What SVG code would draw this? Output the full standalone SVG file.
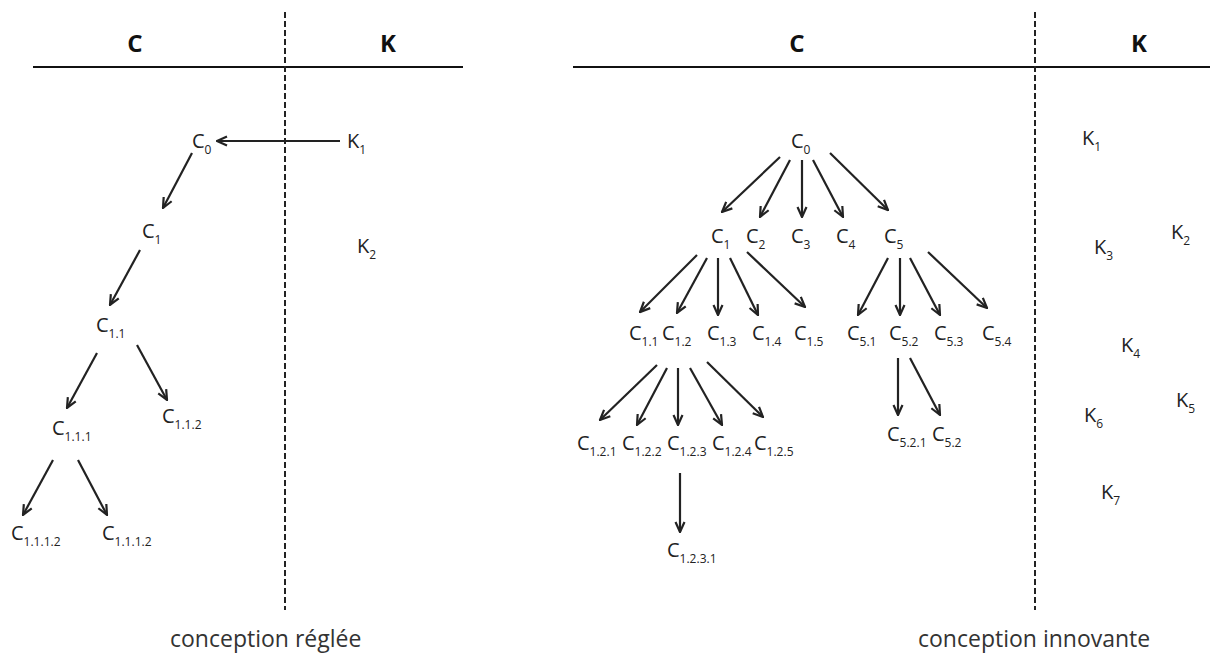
<svg xmlns="http://www.w3.org/2000/svg" width="1210" height="653" viewBox="0 0 1210 653">
<style>
text{font-family:"Open Sans","Liberation Sans",sans-serif;fill:#222}
.n{font-size:20px}
.s{font-size:12px}
.h{font-size:24px;font-weight:bold;text-anchor:middle;fill:#111}
.cap{font-size:23px;fill:#333}
.rule{stroke:#111;stroke-width:2;fill:none}
.dash{stroke:#222;stroke-width:2;stroke-dasharray:6 3;fill:none}
#connectors line{stroke:#222;stroke-width:2.2;marker-end:url(#arr)}
</style>
<defs>
<marker id="arr" viewBox="0 0 12 12" refX="11" refY="6" markerWidth="12" markerHeight="12" markerUnits="userSpaceOnUse" orient="auto">
<path d="M1,1.5 L11,6 L1,10.5" fill="none" stroke="#222" stroke-width="2.2"/>
</marker>
</defs>
<rect width="1210" height="653" fill="#fff"/>
<g id="frame">
<line class="rule" x1="33" y1="67" x2="463" y2="67"/>
<line class="rule" x1="573" y1="67" x2="1210" y2="67"/>
<line class="dash" x1="285" y1="12" x2="285" y2="610"/>
<line class="dash" x1="1035" y1="12" x2="1035" y2="610"/>
<text class="h" x="135" y="52">C</text>
<text class="h" x="388" y="52">K</text>
<text class="h" x="797" y="52">C</text>
<text class="h" x="1139" y="52">K</text>
<text class="cap" x="170" y="647">conception réglée</text>
<text class="cap" x="918" y="647">conception innovante</text>
</g>
<g id="connectors">
<line x1="340" y1="141" x2="217" y2="141"/>
<line x1="192" y1="153" x2="163" y2="208"/>
<line x1="140" y1="250" x2="110" y2="305"/>
<line x1="97" y1="353" x2="67" y2="408"/>
<line x1="137" y1="345" x2="167" y2="400"/>
<line x1="53" y1="460" x2="23" y2="515"/>
<line x1="78" y1="460" x2="107" y2="515"/>
<line x1="780" y1="157" x2="722" y2="212"/>
<line x1="790" y1="160" x2="760" y2="217"/>
<line x1="802" y1="160" x2="802" y2="217"/>
<line x1="813" y1="160" x2="843" y2="217"/>
<line x1="830" y1="153" x2="888" y2="210"/>
<line x1="697" y1="255" x2="640" y2="312"/>
<line x1="707" y1="258" x2="677" y2="313"/>
<line x1="718" y1="258" x2="718" y2="315"/>
<line x1="730" y1="258" x2="758" y2="315"/>
<line x1="747" y1="252" x2="805" y2="307"/>
<line x1="657" y1="365" x2="600" y2="420"/>
<line x1="667" y1="368" x2="637" y2="425"/>
<line x1="678" y1="368" x2="678" y2="425"/>
<line x1="690" y1="368" x2="722" y2="425"/>
<line x1="707" y1="362" x2="763" y2="417"/>
<line x1="680" y1="473" x2="680" y2="532"/>
<line x1="888" y1="258" x2="858" y2="315"/>
<line x1="900" y1="258" x2="900" y2="315"/>
<line x1="910" y1="258" x2="940" y2="315"/>
<line x1="928" y1="252" x2="987" y2="308"/>
<line x1="898" y1="358" x2="898" y2="415"/>
<line x1="910" y1="358" x2="940" y2="415"/>
</g>
<g id="L-C0"><text class="n" x="192" y="148">C<tspan class="s" dy="6">0</tspan></text></g>
<g id="L-K1"><text class="n" x="347" y="148">K<tspan class="s" dy="6">1</tspan></text></g>
<g id="L-C1"><text class="n" x="142" y="238">C<tspan class="s" dy="6">1</tspan></text></g>
<g id="L-C1.1"><text class="n" x="96" y="332">C<tspan class="s" dy="6">1.1</tspan></text></g>
<g id="L-C1.1.1"><text class="n" x="52" y="435">C<tspan class="s" dy="6">1.1.1</tspan></text></g>
<g id="L-C1.1.2"><text class="n" x="162" y="423">C<tspan class="s" dy="6">1.1.2</tspan></text></g>
<g id="L-C1.1.1.2a"><text class="n" x="11" y="540">C<tspan class="s" dy="6">1.1.1.2</tspan></text></g>
<g id="L-C1.1.1.2b"><text class="n" x="102" y="540">C<tspan class="s" dy="6">1.1.1.2</tspan></text></g>
<g id="L-K2"><text class="n" x="357" y="253">K<tspan class="s" dy="6">2</tspan></text></g>
<g id="R-C0"><text class="n" x="791" y="148">C<tspan class="s" dy="6">0</tspan></text></g>
<g id="R-C1"><text class="n" x="711" y="243">C<tspan class="s" dy="6">1</tspan></text></g>
<g id="R-C2"><text class="n" x="746" y="243">C<tspan class="s" dy="6">2</tspan></text></g>
<g id="R-C3"><text class="n" x="791" y="243">C<tspan class="s" dy="6">3</tspan></text></g>
<g id="R-C4"><text class="n" x="836" y="243">C<tspan class="s" dy="6">4</tspan></text></g>
<g id="R-C5"><text class="n" x="884" y="243">C<tspan class="s" dy="6">5</tspan></text></g>
<g id="R-C1.1"><text class="n" x="629" y="340">C<tspan class="s" dy="6">1.1</tspan></text></g>
<g id="R-C1.2"><text class="n" x="662" y="340">C<tspan class="s" dy="6">1.2</tspan></text></g>
<g id="R-C1.3"><text class="n" x="707" y="340">C<tspan class="s" dy="6">1.3</tspan></text></g>
<g id="R-C1.4"><text class="n" x="752" y="340">C<tspan class="s" dy="6">1.4</tspan></text></g>
<g id="R-C1.5"><text class="n" x="794" y="340">C<tspan class="s" dy="6">1.5</tspan></text></g>
<g id="R-C5.1"><text class="n" x="847" y="340">C<tspan class="s" dy="6">5.1</tspan></text></g>
<g id="R-C5.2"><text class="n" x="889" y="340">C<tspan class="s" dy="6">5.2</tspan></text></g>
<g id="R-C5.3"><text class="n" x="934" y="340">C<tspan class="s" dy="6">5.3</tspan></text></g>
<g id="R-C5.4"><text class="n" x="982" y="340">C<tspan class="s" dy="6">5.4</tspan></text></g>
<g id="R-C1.2.1"><text class="n" x="577" y="450">C<tspan class="s" dy="6">1.2.1</tspan></text></g>
<g id="R-C1.2.2"><text class="n" x="622" y="450">C<tspan class="s" dy="6">1.2.2</tspan></text></g>
<g id="R-C1.2.3"><text class="n" x="667" y="450">C<tspan class="s" dy="6">1.2.3</tspan></text></g>
<g id="R-C1.2.4"><text class="n" x="712" y="450">C<tspan class="s" dy="6">1.2.4</tspan></text></g>
<g id="R-C1.2.5"><text class="n" x="754" y="450">C<tspan class="s" dy="6">1.2.5</tspan></text></g>
<g id="R-C5.2.1"><text class="n" x="887" y="441">C<tspan class="s" dy="6">5.2.1</tspan></text></g>
<g id="R-C5.2b"><text class="n" x="932" y="441">C<tspan class="s" dy="6">5.2</tspan></text></g>
<g id="R-C1.2.3.1"><text class="n" x="667" y="557">C<tspan class="s" dy="6">1.2.3.1</tspan></text></g>
<g id="R-K1"><text class="n" x="1082" y="145">K<tspan class="s" dy="6">1</tspan></text></g>
<g id="R-K2"><text class="n" x="1171" y="239">K<tspan class="s" dy="6">2</tspan></text></g>
<g id="R-K3"><text class="n" x="1094" y="254">K<tspan class="s" dy="6">3</tspan></text></g>
<g id="R-K4"><text class="n" x="1121" y="352">K<tspan class="s" dy="6">4</tspan></text></g>
<g id="R-K5"><text class="n" x="1176" y="407">K<tspan class="s" dy="6">5</tspan></text></g>
<g id="R-K6"><text class="n" x="1084" y="422">K<tspan class="s" dy="6">6</tspan></text></g>
<g id="R-K7"><text class="n" x="1101" y="499">K<tspan class="s" dy="6">7</tspan></text></g>
</svg>
